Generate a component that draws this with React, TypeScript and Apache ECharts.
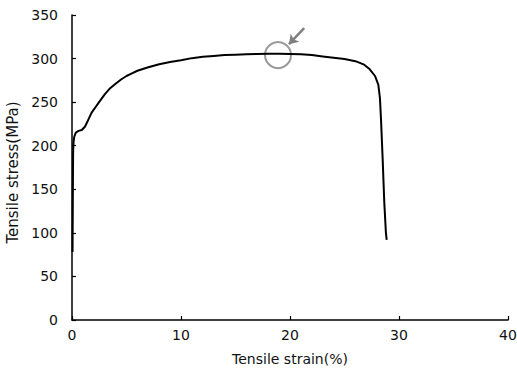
import React, { useEffect, useRef } from "react";
import * as echarts from "echarts";

const strain: number[] = [0.05, 0.08, 0.1, 0.12, 0.15, 0.2, 0.35, 0.6, 0.9, 1.2, 1.5, 1.8, 2.2, 2.6, 3.0, 3.5, 4.0, 4.5, 5.0, 5.5, 6.0, 7, 8, 9, 10, 11, 12, 13, 14, 15, 16, 17, 18, 19, 20, 21, 22, 23, 24, 25, 26, 26.8, 27.3, 27.8, 28.1, 28.25, 28.35, 28.5, 28.65, 28.8, 28.87];
const stress: number[] = [78, 150, 190, 200, 205, 210, 215, 217, 218, 222, 230, 238, 245, 252, 259, 266, 271, 276, 280, 283, 286, 290, 293.5, 296, 298, 300.5, 302, 303, 304, 304.5, 305, 305.3, 305.5, 305.5, 305.3, 305, 304, 302.5, 301, 299.5, 297, 293, 288, 280, 270, 255, 230, 185, 135, 100, 92];

const circlePoint: number[] = [18.9, 304];
const arrowFrom: number[] = [21.3, 335];
const arrowTo: number[] = [19.9, 316.5];

const xTicks = { min: 0, max: 40, interval: 10 };
const yTicks = { min: 0, max: 350, interval: 50 };

export default function App() {
  const ref = useRef<HTMLDivElement>(null);
  useEffect(() => {
    if (!ref.current) return;
    const chart = echarts.init(ref.current, null, { renderer: "svg" });
    const font = "DejaVu Sans";
    const axisCommon = {
      axisLine: { show: true, lineStyle: { color: "#000", width: 1.5 } },
      axisTick: { show: true, inside: true, length: 4, lineStyle: { color: "#000", width: 1.2 } },
      splitLine: { show: false },
      axisLabel: { color: "#111", fontFamily: font, fontSize: 14 },
    };
    chart.setOption({
      animation: false,
      backgroundColor: "#fff",
      grid: { left: 72, right: 9, top: 15, bottom: 54, containLabel: false, outerBoundsMode: "none" },
      xAxis: {
        type: "value",
        ...xTicks,
        ...axisCommon,
        axisLabel: { ...axisCommon.axisLabel, margin: 8 },
        name: "Tensile strain(%)",
        nameLocation: "middle",
        nameGap: 32,
        nameTextStyle: { color: "#111", fontFamily: font, fontSize: 14 },
      },
      yAxis: {
        type: "value",
        ...yTicks,
        ...axisCommon,
        axisLabel: { ...axisCommon.axisLabel, margin: 14 },
        name: "Tensile stress(MPa)",
        nameLocation: "middle",
        nameGap: 49,
        nameTextStyle: { color: "#111", fontFamily: font, fontSize: 15, padding: [0, 0, 0, -10] },
      },
      series: [
        {
          type: "line",
          data: strain.map((x, i) => [x, stress[i]]),
          showSymbol: false,
          smooth: false,
          lineStyle: { color: "#000", width: 2 },
          markLine: {
            silent: true,
            symbol: ["none", "arrow"],
            symbolSize: 9,
            label: { show: false },
            lineStyle: { color: "#808080", width: 2.5, type: "solid" },
            data: [[{ coord: arrowFrom }, { coord: arrowTo }]],
          },
        },
        {
          type: "scatter",
          data: [circlePoint],
          symbol: "circle",
          symbolSize: 26,
          itemStyle: { color: "rgba(0,0,0,0)", borderColor: "#808080", borderWidth: 2 },
        },
      ],
    });
    return () => chart.dispose();
  }, []);
  return <div ref={ref} style={{ width: 517, height: 374, position: "absolute", left: 0, top: 0 }} />;
}
